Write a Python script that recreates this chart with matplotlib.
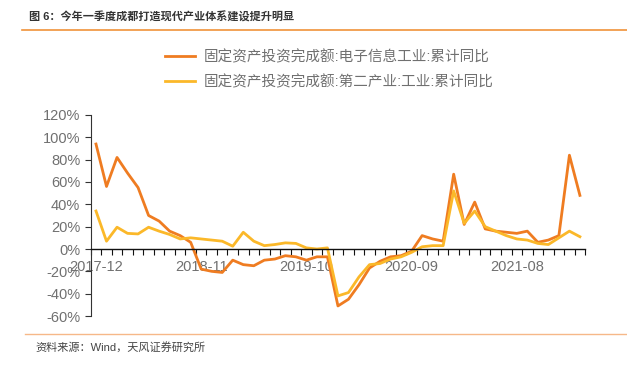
import numpy as np
import matplotlib.pyplot as plt
from matplotlib.lines import Line2D

plt.rcParams['font.family'] = ['Liberation Sans', 'Noto Sans CJK SC', 'DejaVu Sans']

# Data (monthly, January merged into February)
months = ['2017-12',
          '2018-02', '2018-03', '2018-04', '2018-05', '2018-06', '2018-07',
          '2018-08', '2018-09', '2018-10', '2018-11', '2018-12',
          '2019-02', '2019-03', '2019-04', '2019-05', '2019-06', '2019-07',
          '2019-08', '2019-09', '2019-10', '2019-11', '2019-12',
          '2020-02', '2020-03', '2020-04', '2020-05', '2020-06', '2020-07',
          '2020-08', '2020-09', '2020-10', '2020-11', '2020-12',
          '2021-02', '2021-03', '2021-04', '2021-05', '2021-06', '2021-07',
          '2021-08', '2021-09', '2021-10', '2021-11', '2021-12',
          '2022-02', '2022-03']

electronic = [94, 56, 82, 68, 55, 30, 25, 16, 12, 6, -18, -20, -21, -10, -14,
              -15, -10, -9, -6, -7, -10, -7, -7, -51, -45, -32, -17, -11, -7,
              -6, -2, 12, 9, 7, 67, 22, 42, 18, 16, 15, 14, 16, 6, 8, 12, 84, 48]

industry = [34, 7, 19.5, 14, 13.5, 19.5, 16, 13, 9, 10, 9, 8, 7, 2.5, 15, 7,
            3, 4, 5.5, 5, 1, 0, 1, -42, -39, -25, -14, -13, -9, -7, -3, 2, 3,
            3, 52, 23, 34, 20, 16, 12, 9, 8, 5, 4, 10, 16, 11]

label_a = '固定资产投资完成额:电子信息工业:累计同比'
label_b = '固定资产投资完成额:第二产业:工业:累计同比'

c_orange = '#EF7C21'
c_yellow = '#FBB829'
c_text = '#707070'

fig = plt.figure(figsize=(6.27, 3.66), dpi=100)
ax = fig.add_axes([0.1447, 0.1366, 0.7886, 0.5492])

x = np.arange(len(months))
ax.plot(x, electronic, color=c_orange, lw=2.0)
ax.plot(x, industry, color=c_yellow, lw=2.0)

ax.set_xlim(-0.5, len(months) - 0.5)
ax.set_ylim(-60, 120)
ax.set_yticks(np.arange(-60, 121, 20))
ax.set_yticklabels([f'{v}%' for v in range(-60, 121, 20)])

for s in ['top', 'right']:
    ax.spines[s].set_visible(False)
ax.spines['left'].set_color('#333333')
ax.spines['left'].set_linewidth(0.8)
ax.spines['bottom'].set_position(('data', 0))
ax.spines['bottom'].set_color('#111111')
ax.spines['bottom'].set_linewidth(1.0)

ax.set_xticks(x[::10])
ax.set_xticklabels([months[i] for i in x[::10]])
ax.set_xticks(np.arange(-0.5, len(months), 1), minor=True)
ax.tick_params(axis='x', which='major', length=0, pad=8, labelsize=10.5, labelcolor=c_text)
ax.tick_params(axis='x', which='minor', length=4, width=0.8, direction='out', color='#111111')
ax.tick_params(axis='y', length=4, width=0.8, color='#333333', labelsize=10.5, labelcolor=c_text)

handles = [Line2D([], [], color=c_orange, lw=2), Line2D([], [], color=c_yellow, lw=2)]
fig.legend(handles, [label_a, label_b], loc='upper left', bbox_to_anchor=(0.243, 0.899),
           frameon=False, fontsize=10.5, labelcolor=c_text, handlelength=2.05,
           handletextpad=0.55, labelspacing=0.7)

fig.text(0.046, 0.953, '图 6：今年一季度成都打造现代产业体系建设提升明显', fontsize=8,
         fontweight='bold', color='#333333', va='center', ha='left')
fig.add_artist(Line2D([0.035, 1.0], [0.918, 0.918], color='#F0923A', lw=1.2))
fig.add_artist(Line2D([0.04, 1.0], [0.087, 0.087], color='#F6B889', lw=1.0))
fig.text(0.056, 0.052, '资料来源：Wind，天风证券研究所', fontsize=8, color='#444444',
         va='center', ha='left')

plt.savefig('out.png', dpi=100)
